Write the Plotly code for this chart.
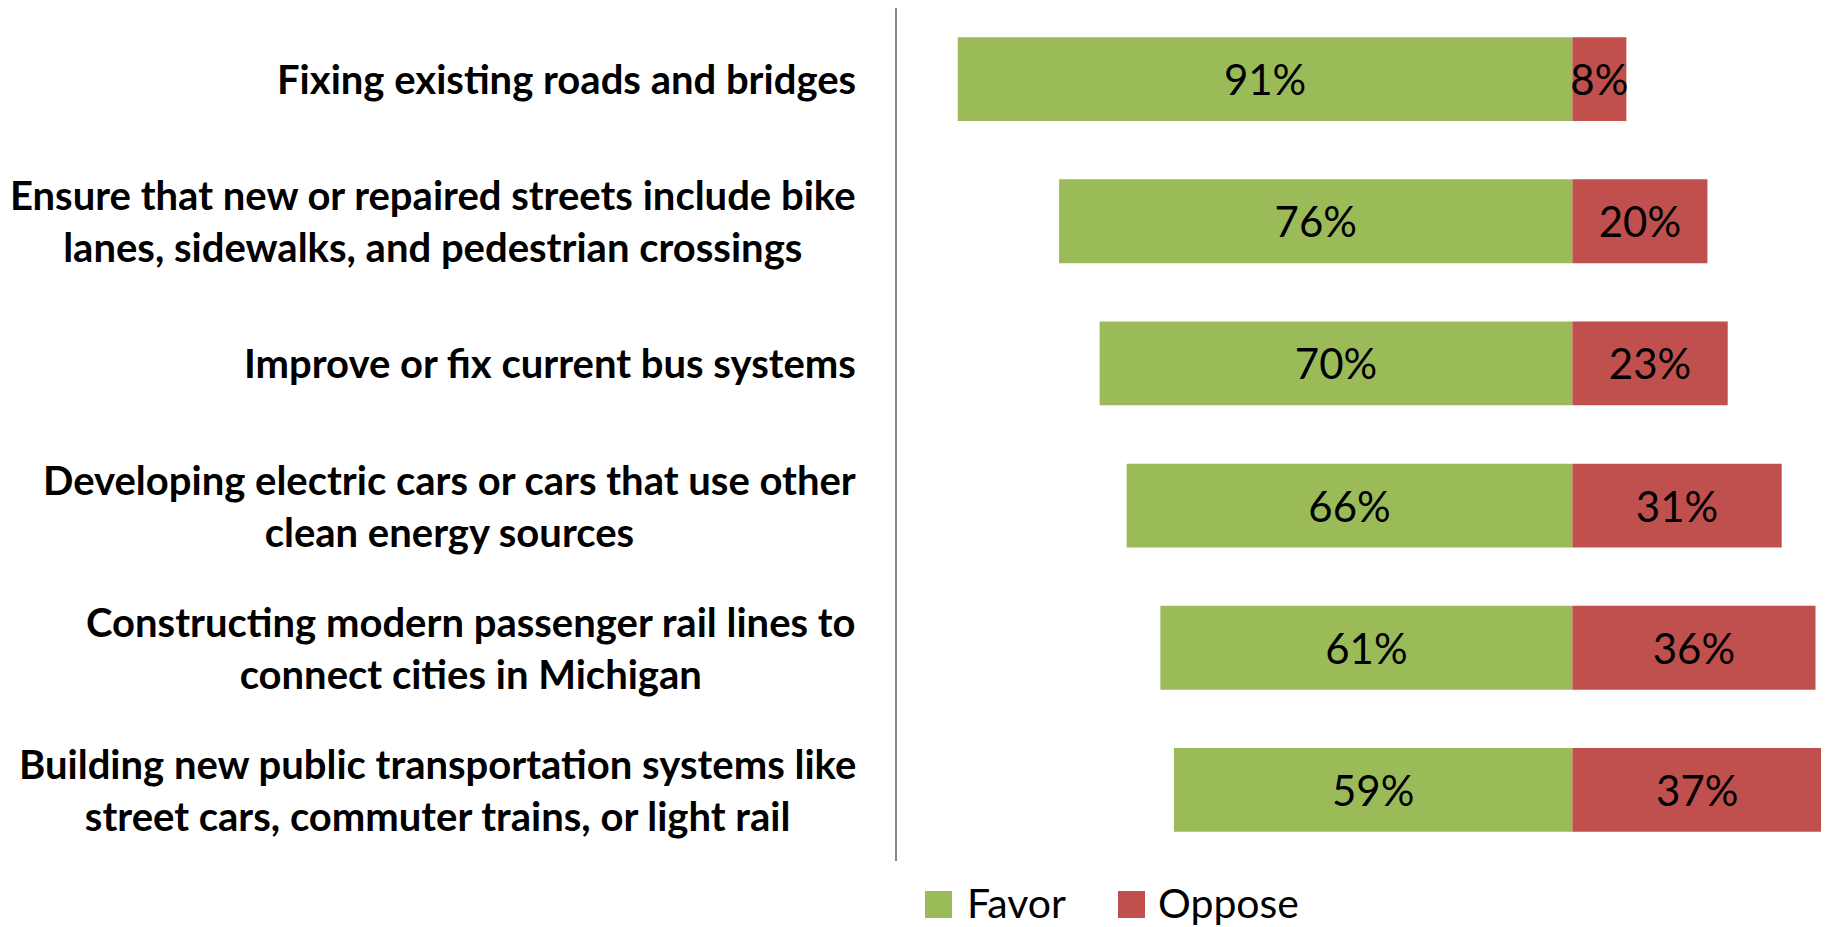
import plotly.graph_objects as go

categories = [
    "Fixing existing roads and bridges",
    "Ensure that new or repaired streets include bike<br>lanes, sidewalks, and pedestrian crossings",
    "Improve or fix current bus systems",
    "Developing electric cars or cars that use other<br>clean energy sources",
    "Constructing modern passenger rail lines to<br>connect cities in Michigan",
    "Building new public transportation systems like<br>street cars, commuter trains, or light rail",
]
favor = [91, 76, 70, 66, 61, 59]
oppose = [8, 20, 23, 31, 36, 37]
series_names = ["Favor", "Oppose"]
colors = ["#9BBB59", "#C0504D"]

FONT = "Lato"
ypos = list(range(len(categories)))

# page has an 8px body margin; figure is sized/offset to compensate
OFF = 8
W, H = 1829 - OFF, 927 - OFF
pl, pr, pt, pb = 897 - OFF, 0, 0, 66

fig = go.Figure()
fig.add_trace(go.Bar(
    y=ypos, x=[-v for v in favor], orientation="h", name=series_names[0],
    marker=dict(color=colors[0], line=dict(width=0)),
    text=[f"{v}%" for v in favor], textposition="inside", insidetextanchor="middle",
    textangle=0, constraintext="none",
    textfont=dict(family=FONT, size=42, color="black"), showlegend=False,
))
fig.add_trace(go.Bar(
    y=ypos, x=oppose, orientation="h", name=series_names[1],
    marker=dict(color=colors[1], line=dict(width=0)),
    text=[f"{v}%" for v in oppose], textposition="inside", insidetextanchor="middle",
    textangle=0, constraintext="none",
    textfont=dict(family=FONT, size=42, color="black"), showlegend=False,
))

annotations = []
for i, c in enumerate(categories):
    annotations.append(dict(
        x=0, xref="paper", y=i, yref="y", text=c, showarrow=False,
        xanchor="right", yanchor="middle", align="center", xshift=-39,
        font=dict(family=FONT, size=40, color="black", weight="bold"),
    ))

# manual legend (square swatches + labels), positions in page pixels
def px_x(px):
    return (px - OFF - pl) / (W - pl - pr)
def px_y(py):
    return 1 - (py - OFF - pt) / (H - pt - pb)

shapes = []
leg_sq_x = [925, 1118]
leg_txt_x = [965, 1156]
for k in range(2):
    shapes.append(dict(type="rect", xref="paper", yref="paper",
                       x0=px_x(leg_sq_x[k]), x1=px_x(leg_sq_x[k] + 27),
                       y0=px_y(918), y1=px_y(891),
                       fillcolor=colors[k], line=dict(width=0)))
    annotations.append(dict(
        x=px_x(leg_txt_x[k]), y=px_y(902), xref="paper", yref="paper",
        text=series_names[k], showarrow=False, xanchor="left", yanchor="middle",
        font=dict(family=FONT, size=41, color="black"),
    ))

fig.update_layout(
    barmode="relative",
    bargap=0.41,
    width=W, height=H,
    margin=dict(l=pl, r=pr, t=pt, b=pb, pad=0),
    paper_bgcolor="white", plot_bgcolor="white",
    xaxis=dict(range=[-100, 38], visible=False, fixedrange=True),
    yaxis=dict(range=[len(categories) - 0.5, -0.5], showticklabels=False,
               showgrid=False, zeroline=False, showline=True,
               linecolor="#868686", linewidth=2, ticks=""),
    annotations=annotations,
    shapes=shapes,
    showlegend=False,
    font=dict(family=FONT),
)

fig.write_html("out.html")
